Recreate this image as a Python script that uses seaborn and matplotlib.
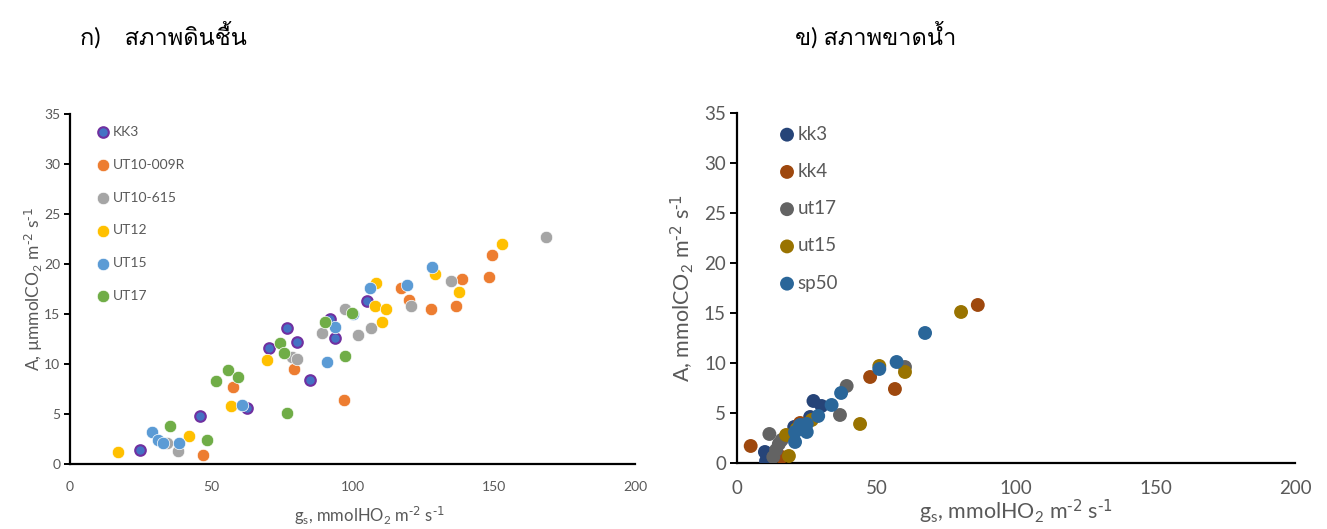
import numpy as np
import pandas as pd
import seaborn as sns
import matplotlib
matplotlib.use("Agg")
from matplotlib import pyplot as plt
from matplotlib import font_manager
from matplotlib.ft2font import FT2Font

# ---- ข้อมูล (อ่านจากกราฟ) ----
# ก) สภาพดินชื้น
kk3_x = [24.8, 46.0, 62.7, 70.4, 76.8, 80.4, 85.0, 92.0, 93.8, 105.0]
kk3_y = [1.4, 4.8, 5.6, 11.6, 13.6, 12.2, 8.4, 14.5, 12.6, 16.3]
ut009_x = [47.0, 57.7, 79.3, 97.0, 117.0, 120.0, 127.8, 136.6, 138.6, 148.3, 149.3]
ut009_y = [0.9, 7.7, 9.5, 6.4, 17.6, 16.4, 15.5, 15.8, 18.5, 18.7, 20.9]
ut615_x = [34.2, 38.2, 78.5, 80.2, 89.0, 97.3, 102.0, 106.4, 120.6, 135.0, 168.4]
ut615_y = [2.1, 1.3, 10.7, 10.5, 13.1, 15.5, 12.9, 13.6, 15.8, 18.3, 22.7]
ut12_x = [16.8, 42.1, 57.0, 69.8, 108.0, 108.3, 110.5, 111.7, 129.2, 137.8, 153.0]
ut12_y = [1.2, 2.8, 5.8, 10.4, 15.8, 18.1, 14.2, 15.5, 19.0, 17.2, 22.0]
ut15_x = [29.1, 31.3, 33.0, 38.7, 60.8, 90.9, 93.8, 100.0, 106.2, 119.3, 128.0]
ut15_y = [3.2, 2.4, 2.1, 2.1, 5.9, 10.2, 13.7, 15.0, 17.6, 17.9, 19.7]
ut17_x = [35.4, 48.4, 51.7, 55.8, 59.3, 74.3, 75.9, 76.9, 90.3, 97.3, 99.7]
ut17_y = [3.8, 2.4, 8.3, 9.4, 8.7, 12.1, 11.1, 5.1, 14.2, 10.8, 15.1]

# ข) สภาพขาดน้ำ
d_kk3_x = [10.0, 10.4, 20.5, 26.2, 27.4, 30.3]
d_kk3_y = [1.1, 0.2, 3.6, 4.6, 6.2, 5.7]
d_kk4_x = [4.9, 16.0, 22.6, 47.7, 56.6, 86.3]
d_kk4_y = [1.7, 0.6, 4.0, 8.6, 7.4, 15.8]
d_ut17_x = [11.6, 13.0, 14.0, 15.0, 16.0, 36.9, 39.3, 60.2]
d_ut17_y = [2.9, 0.6, 1.3, 1.9, 2.3, 4.8, 7.7, 9.6]
d_ut15_x = [17.6, 18.6, 21.4, 26.8, 44.1, 51.0, 60.2, 80.3]
d_ut15_y = [2.8, 0.7, 3.4, 4.3, 3.9, 9.7, 9.1, 15.1]
d_sp50_x = [20.8, 20.8, 22.6, 25.0, 25.0, 29.1, 33.9, 37.3, 51.0, 57.2, 67.4]
d_sp50_y = [2.1, 3.1, 3.8, 3.1, 3.9, 4.7, 5.8, 7.0, 9.4, 10.1, 13.0]

wet_names = ["KK3", "UT10-009R", "UT10-615", "UT12", "UT15", "UT17"]
wet_series = [(kk3_x, kk3_y), (ut009_x, ut009_y), (ut615_x, ut615_y),
              (ut12_x, ut12_y), (ut15_x, ut15_y), (ut17_x, ut17_y)]
wet_colors = ["#4472C4", "#ED7D31", "#A5A5A5", "#FFC000", "#5B9BD5", "#70AD47"]

dry_names = ["kk3", "kk4", "ut17", "ut15", "sp50"]
dry_series = [(d_kk3_x, d_kk3_y), (d_kk4_x, d_kk4_y), (d_ut17_x, d_ut17_y),
              (d_ut15_x, d_ut15_y), (d_sp50_x, d_sp50_y)]
dry_colors = ["#264478", "#9E480E", "#636363", "#997300", "#2A6699"]


# หาฟอนต์ที่มีอักษรไทย
def find_thai_font():
    for f in font_manager.fontManager.ttflist:
        try:
            if 0x0E01 in FT2Font(f.fname).get_charmap():
                return f.name
        except Exception:
            pass
    return None


sns.set_style("white")
thai = find_thai_font()
fams = ["Lato"] + ([thai] if thai else []) + ["DejaVu Sans"]
plt.rcParams["font.family"] = fams
plt.rcParams["mathtext.default"] = "regular"

grey = "#595959"
fig = plt.figure(figsize=(13.27, 5.29), dpi=100)
ax1 = fig.add_axes([0.0528, 0.1229, 0.4258, 0.6616])
ax2 = fig.add_axes([0.5554, 0.1248, 0.4205, 0.6616])

# ---- กราฟซ้าย ----
for name, (xs, ys), col in zip(wet_names, wet_series, wet_colors):
    if name == "KK3":
        ec, lw, sz = "#7030A0", 1.5, 58
    else:
        ec, lw, sz = "white", 0.5, 80
    sns.scatterplot(x=xs, y=ys, ax=ax1, color=col, edgecolor=ec, linewidth=lw,
                    s=sz, label=name, legend=False, zorder=3)

# ---- กราฟขวา ----
for name, (xs, ys), col in zip(dry_names, dry_series, dry_colors):
    sns.scatterplot(x=xs, y=ys, ax=ax2, color=col, edgecolor="none",
                    s=100, label=name, legend=False, zorder=3)

for ax, fs, ticklen in [(ax1, 10, 4), (ax2, 13.5, 5)]:
    ax.set_xlim(0, 200)
    ax.set_ylim(0, 35)
    ax.set_xticks(np.arange(0, 201, 50))
    ax.set_yticks(np.arange(0, 36, 5))
    for side in ["top", "right"]:
        ax.spines[side].set_visible(False)
    for side in ["left", "bottom"]:
        ax.spines[side].set_color("black")
        ax.spines[side].set_linewidth(1.6)
    ax.tick_params(axis="y", direction="out", length=ticklen, width=1.4,
                   color="black", labelcolor=grey, labelsize=fs, pad=3, left=True)
    ax.tick_params(axis="x", length=0, labelcolor=grey, labelsize=fs, pad=12)

xlab = r"g$_s$, mmolHO$_2$ m$^{\text{-2}}$ s$^{\text{-1}}$"
ax1.set_xlabel(xlab, fontsize=12, color=grey)
ax1.set_ylabel(r"A, µmmolCO$_2$ m$^{\text{-2}}$ s$^{\text{-1}}$", fontsize=12.5, color=grey)
ax1.xaxis.set_label_coords(0.529, -0.115)
ax1.yaxis.set_label_coords(-0.044, 0.5)

ax2.set_xlabel(xlab, fontsize=15.5, color=grey)
ax2.set_ylabel(r"A, mmolCO$_2$ m$^{\text{-2}}$ s$^{\text{-1}}$", fontsize=15.5, color=grey)
ax2.xaxis.set_label_coords(0.5, -0.1)
ax2.yaxis.set_label_coords(-0.073, 0.5)

leg1 = ax1.legend(loc="upper left", bbox_to_anchor=(0.0487, 0.966), frameon=False,
                  fontsize=10, handlelength=0.8, handletextpad=0.3,
                  labelspacing=1.5, borderpad=0, borderaxespad=0)
for t in leg1.get_texts():
    t.set_color(grey)

leg2 = ax2.legend(loc="upper left", bbox_to_anchor=(0.077, 0.964), frameon=False,
                  fontsize=13.5, handlelength=0.75, handletextpad=0.2,
                  labelspacing=1.08, borderpad=0, borderaxespad=0)
for t in leg2.get_texts():
    t.set_color(grey)

fig.text(0.0603, 0.934, "ก)    สภาพดินชื้น", fontsize=17, ha="left", va="center",
         color="black")
fig.text(0.660, 0.934, "ข) สภาพขาดน้ำ", fontsize=17, ha="center", va="center",
         color="black")

fig.savefig("out.png", dpi=100)
